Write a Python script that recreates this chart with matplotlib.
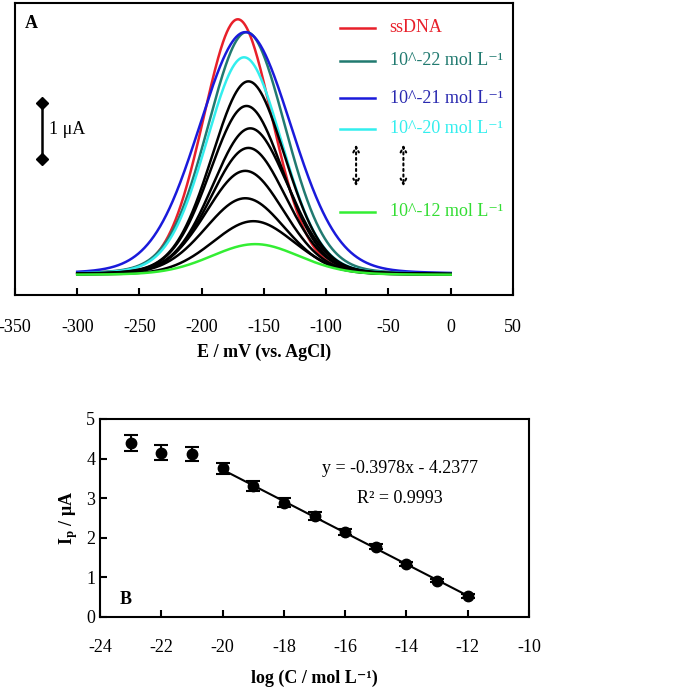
import numpy as np
import matplotlib
matplotlib.use("Agg")
import matplotlib.pyplot as plt

plt.rcParams['font.family'] = ['Liberation Serif', 'DejaVu Serif']
plt.rcParams['mathtext.fontset'] = 'stix'
plt.rcParams['axes.unicode_minus'] = False

# ---- Panel A data: peak parameters ----
curve_labels = ['ssDNA', '10^-22', '10^-21', '10^-20',
                '10^-19', '10^-18', '10^-17', '10^-16', '10^-15', '10^-14', '10^-13',
                '10^-12']
curve_colors = ['#e8202a', '#217a70', '#1a1adb', '#33eeee',
                'black', 'black', 'black', 'black', 'black', 'black', 'black',
                '#33ee33']
peak_E = [-171, -164, -165, -166, -162.5, -164, -161, -162.5, -165, -165, -158.5, -157]
peak_I = [4.57, 4.34, 4.34, 3.89, 3.46, 3.02, 2.62, 2.27, 1.86, 1.37, 0.96, 0.55]
peak_fwhm = [66, 74, 88, 72, 70, 70, 72, 72, 74, 76, 78, 84]
E_start, E_end = -300, 0

legend_entries = ['ssDNA', '10^-22 mol L', '10^-21 mol L', '10^-20 mol L', '10^-12 mol L']
legend_colors = ['#e8202a', '#217a70', '#1a1adb', '#33eeee', '#33ee33']
legend_text_colors = ['#e8202a', '#217a70', '#2a2ab0', '#33eeee', '#33dd33']
legend_super = [False, True, True, True, True]

# ---- Panel B data ----
logC = [-23, -22, -21, -20, -19, -18, -17, -16, -15, -14, -13, -12]
Ip = [4.39, 4.15, 4.12, 3.75, 3.31, 2.89, 2.54, 2.14, 1.77, 1.34, 0.92, 0.53]
Ip_err = [0.21, 0.18, 0.18, 0.15, 0.13, 0.11, 0.10, 0.07, 0.06, 0.05, 0.04, 0.04]
slope, intercept = -0.3978, -4.2377
fit_range = [-20, -12]


def peak(E, E0, h, fwhm, eta=0.12):
    g = np.exp(-4 * np.log(2) * ((E - E0) / fwhm) ** 2)
    l = 1.0 / (1 + 4 * ((E - E0) / fwhm) ** 2)
    return h * ((1 - eta) * g + eta * l)


fig = plt.figure(figsize=(7.0, 6.94), dpi=100)

# ---------------- Panel A ----------------
axA = fig.add_axes([0.0214, 0.5749, 0.7114, 0.4207])
E = np.linspace(E_start, E_end, 600)
for i in range(len(peak_E)):
    axA.plot(E, peak(E, peak_E[i], peak_I[i], peak_fwhm[i]), color=curve_colors[i], lw=1.8)
axA.set_xlim(-350, 50)
axA.set_ylim(-0.36, 4.86)
axA.set_xticks(np.arange(-350, 51, 50))
axA.set_yticks([])
axA.tick_params(axis='x', direction='in', length=5, width=1.5, pad=17, labelsize=13)
for s in axA.spines.values():
    s.set_linewidth(1.5)
axA.set_xlabel('E / mV (vs. AgCl)', fontsize=13, fontweight='bold', labelpad=6)
axA.text(0.02, 0.93, 'A', transform=axA.transAxes, fontsize=13, fontweight='bold', va='center')

# scale bar
axA.plot([-328, -328], [2.07, 3.07], color='black', lw=1.8, marker='D', ms=6)
axA.text(-323, 2.6, '1 μA', fontsize=13, va='center')

# legend
leg_y = [4.42, 3.83, 3.16, 2.61, 1.13]
for i in range(len(legend_entries)):
    axA.plot([-89, -61], [leg_y[i], leg_y[i]], color=legend_colors[i], lw=1.8)
    txt = legend_entries[i] + ('⁻¹' if legend_super[i] else '')
    axA.text(-49, leg_y[i], txt, color=legend_text_colors[i], fontsize=13, va='center')
for xa in [-76, -38]:
    axA.annotate('', xy=(xa, 1.53), xytext=(xa, 2.38),
                 arrowprops=dict(arrowstyle='<->', linestyle=':', lw=1.5, color='black'))

# ---------------- Panel B ----------------
axB = fig.add_axes([0.1429, 0.1110, 0.6129, 0.2853])
axB.errorbar(logC, Ip, yerr=Ip_err, fmt='o', color='black', ms=7.5,
             capsize=5, elinewidth=1.5, capthick=1.5)
xf = np.array(fit_range)
axB.plot(xf, slope * xf + intercept, color='black', lw=1.5)
axB.set_xlim(-24, -10)
axB.set_ylim(0, 5)
axB.set_xticks(np.arange(-24, -9, 2))
axB.set_yticks(np.arange(0, 6, 1))
axB.tick_params(direction='in', length=5, width=1.5, labelsize=13)
axB.tick_params(axis='x', pad=16)
for s in axB.spines.values():
    s.set_linewidth(1.5)
axB.set_xlabel('log (C / mol L⁻¹)', fontsize=13, fontweight='bold', labelpad=10)
axB.set_ylabel(r'I$_{\mathbf{p}}$ / μA', fontsize=13, fontweight='bold', labelpad=4)
axB.text(0.70, 0.752, 'y = -0.3978x - 4.2377', transform=axB.transAxes, fontsize=13,
         ha='center', va='center')
axB.text(0.70, 0.60, 'R² = 0.9993', transform=axB.transAxes, fontsize=13,
         ha='center', va='center')
axB.text(0.045, 0.09, 'B', transform=axB.transAxes, fontsize=13, fontweight='bold', va='center')

fig.savefig('out.png', dpi=100)
